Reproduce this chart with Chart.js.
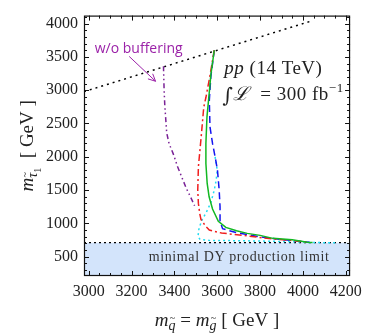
<!DOCTYPE html>
<html>
<head>
<meta charset="utf-8">
<script src="https://cdn.jsdelivr.net/npm/chart.js@4.4.1/dist/chart.umd.min.js"></script>
<style>
html, body { margin: 0; padding: 0; background: #fff; }
#wrap { width: 368px; height: 336px; }
</style>
</head>
<body>
<div id="wrap"><canvas id="limitChart"></canvas></div>
<script>
// axis ranges and tick labels
const xRange = [2978, 4220];
const yRange = [210, 4120];
const xTicks = [3000, 3200, 3400, 3600, 3800, 4000, 4200];
const yTicks = [500, 1000, 1500, 2000, 2500, 3000, 3500, 4000];
const dyLimit = 710;

// kinematic boundary (dotted)
const diagX = [2978, 4040];
const diagY = [2978, 4040];

// exclusion curves
const greenX = [3586, 3570, 3562, 3552, 3547, 3547, 3553, 3562, 3578, 3605, 3640, 3690, 3740, 3800, 3860, 3950, 4020, 4045];
const greenY = [3600, 3225, 2940, 2600, 2200, 1900, 1600, 1400, 1215, 1030, 940, 890, 850, 820, 775, 755, 718, 712];

const redX = [3586, 3565, 3547, 3537, 3525, 3512, 3509, 3512, 3518, 3524, 3545, 3563, 3620, 3720, 3820, 3940, 4030];
const redY = [3600, 3200, 2890, 2745, 2300, 1850, 1500, 1300, 1150, 1060, 960, 900, 855, 820, 780, 745, 715];

const blueX = [3586, 3570, 3563, 3566, 3578, 3590, 3601, 3609, 3613, 3613, 3625, 3690, 3815, 3940, 4030];
const blueY = [3600, 3200, 2850, 2450, 2200, 2000, 1800, 1500, 1250, 1030, 920, 860, 790, 745, 715];

const cyanX = [3590, 3600, 3595, 3586, 3570, 3548, 3530, 3515, 3510, 3520, 3560, 3650, 3800, 3950, 4030, 4160];
const cyanY = [2000, 1800, 1650, 1500, 1310, 1160, 1060, 930, 800, 760, 745, 742, 735, 725, 712, 710];

const purpleX = [3349, 3352, 3355, 3364, 3375, 3395, 3415, 3435, 3455, 3475, 3494];
const purpleY = [3360, 3000, 2780, 2360, 2200, 2040, 1850, 1690, 1530, 1400, 1265];

// annotation anchors in data units
const bufferLabel = { x: 3028, y: 3565 };
const bufferArrow = { from: [3189, 3507], to: [3312, 3134] };
const ppLabel = { x: 3633, y: 3249 };
const lumiLabel = { x: 3624, y: 2859 };
const dyLabel = { x: 3702, y: 435 };

const serif = '"Liberation Serif", serif';

function pts(xs, ys) {
    return xs.map((x, i) => ({ x: x, y: ys[i] }));
}

function line(label, xs, ys, color, dash, order) {
    return {
        label: label,
        data: pts(xs, ys),
        borderColor: color,
        borderWidth: 1.5,
        borderDash: dash,
        pointRadius: 0,
        showLine: true,
        fill: false,
        tension: 0,
        order: order
    };
}

// draws a run of [font, text, dy, tilde] pieces, returns the end x
function drawParts(ctx, parts, x, y) {
    parts.forEach(p => {
        ctx.font = p[0];
        const w = ctx.measureText(p[1]).width;
        ctx.fillText(p[1], x, y + p[2]);
        if (p[3]) {
            ctx.save();
            ctx.font = '10px ' + serif;
            ctx.textAlign = 'center';
            ctx.fillText('~', x + w / 2 + 0.5, y + p[2] - p[3]);
            ctx.restore();
        }
        x += w;
    });
    return x;
}

function partsWidth(ctx, parts) {
    let w = 0;
    parts.forEach(p => { ctx.font = p[0]; w += ctx.measureText(p[1]).width; });
    return w;
}

// frame, inside ticks on all four sides, and text labels
const framePlugin = {
    id: 'frame',
    afterDraw(chart) {
        const ctx = chart.ctx;
        const a = chart.chartArea;
        const sx = chart.scales.x, sy = chart.scales.y;
        ctx.save();
        ctx.strokeStyle = '#111';
        ctx.lineWidth = 1.2;
        ctx.strokeRect(a.left + 0.5, a.top + 0.5, a.right - a.left - 1, a.bottom - a.top - 1);

        ctx.lineWidth = 1;
        ctx.beginPath();
        for (let v = 3000; v <= 4200; v += 50) {
            const px = Math.round(sx.getPixelForValue(v)) + 0.5;
            const len = v % 200 === 0 ? 5 : 3;
            ctx.moveTo(px, a.bottom); ctx.lineTo(px, a.bottom - len);
            ctx.moveTo(px, a.top); ctx.lineTo(px, a.top + len);
        }
        for (let v = 300; v <= 4100; v += 100) {
            const py = Math.round(sy.getPixelForValue(v)) + 0.5;
            const len = v % 500 === 0 ? 5 : 3;
            ctx.moveTo(a.left, py); ctx.lineTo(a.left + len, py);
            ctx.moveTo(a.right, py); ctx.lineTo(a.right - len, py);
        }
        ctx.stroke();

        // w/o buffering + arrow
        ctx.fillStyle = '#9b22a8';
        ctx.strokeStyle = '#9b22a8';
        ctx.font = '14px "Open Sans", sans-serif';
        ctx.textBaseline = 'alphabetic';
        ctx.fillText('w/o buffering', sx.getPixelForValue(bufferLabel.x), sy.getPixelForValue(bufferLabel.y));
        const x0 = sx.getPixelForValue(bufferArrow.from[0]), y0 = sy.getPixelForValue(bufferArrow.from[1]);
        const x1 = sx.getPixelForValue(bufferArrow.to[0]), y1 = sy.getPixelForValue(bufferArrow.to[1]);
        const ang = Math.atan2(y1 - y0, x1 - x0);
        ctx.beginPath();
        ctx.moveTo(x0, y0); ctx.lineTo(x1, y1);
        ctx.moveTo(x1 - 8 * Math.cos(ang - 0.45), y1 - 8 * Math.sin(ang - 0.45));
        ctx.lineTo(x1, y1);
        ctx.lineTo(x1 - 8 * Math.cos(ang + 0.45), y1 - 8 * Math.sin(ang + 0.45));
        ctx.stroke();

        // pp (14 TeV) and luminosity
        ctx.fillStyle = '#222';
        ctx.letterSpacing = '0.5px';
        let px = sx.getPixelForValue(ppLabel.x), py = sy.getPixelForValue(ppLabel.y);
        drawParts(ctx, [
            ['italic 19px ' + serif, 'pp ', 0],
            ['19px ' + serif, '(14 TeV)', 0]
        ], px, py);

        px = sx.getPixelForValue(lumiLabel.x); py = sy.getPixelForValue(lumiLabel.y);
        drawParts(ctx, [
            ['20px "DejaVu Serif", serif', '\u222B', 2],
            ['italic 19px ' + serif, '\u2112', 0],
            ['19px ' + serif, '  = 300 fb', 0],
            ['13px ' + serif, '\u22121', -8]
        ], px, py);
        ctx.letterSpacing = '0px';

        // DY limit text
        ctx.font = '14px ' + serif;
        ctx.letterSpacing = '0.6px';
        ctx.textAlign = 'center';
        ctx.fillStyle = '#333';
        ctx.fillText('minimal DY production limit', sx.getPixelForValue(dyLabel.x), sy.getPixelForValue(dyLabel.y));
        ctx.letterSpacing = '0px';

        // axis titles
        ctx.textAlign = 'left';
        ctx.fillStyle = '#222';
        const xParts = [
            ['italic 19px ' + serif, 'm', 0],
            ['italic 14px ' + serif, 'q', 4, 9],
            ['19px ' + serif, ' = ', 0],
            ['italic 19px ' + serif, 'm', 0],
            ['italic 14px ' + serif, 'g', 4, 9],
            ['19px ' + serif, ' [ GeV ]', 0]
        ];
        const cx = (a.left + a.right) / 2;
        drawParts(ctx, xParts, cx - partsWidth(ctx, xParts) / 2, 326);

        const yParts = [
            ['italic 19px ' + serif, 'm', 0],
            ['italic 14px ' + serif, '\u03C4', 4, 9],
            ['10px ' + serif, '1', 8],
            ['19px ' + serif, '  [ GeV ]', 0]
        ];
        const cy = (a.top + a.bottom) / 2;
        ctx.translate(33, cy);
        ctx.rotate(-Math.PI / 2);
        drawParts(ctx, yParts, -partsWidth(ctx, yParts) / 2, 0);
        ctx.restore();
    }
};

new Chart(document.getElementById('limitChart').getContext('2d'), {
    type: 'scatter',
    data: {
        datasets: [
            {
                label: 'DY limit',
                data: pts(xRange, [dyLimit, dyLimit]),
                borderColor: '#000',
                borderWidth: 1.3,
                borderDash: [2, 3],
                backgroundColor: '#d3e4fb',
                pointRadius: 0,
                showLine: true,
                fill: 'start',
                order: 10
            },
            line('boundary', diagX, diagY, '#000', [2, 4], 9),
            line('w/o buffering', purpleX, purpleY, '#7a2296', [5, 3, 1.5, 3, 1.5, 3], 6),
            line('cyan', cyanX, cyanY, '#22dcf0', [2, 3], 5),
            line('blue', blueX, blueY, '#1414f0', [7, 4], 4),
            line('red', redX, redY, '#f01e1e', [7, 3, 2, 3], 3),
            line('green', greenX, greenY, '#12b822', [], 2)
        ]
    },
    options: {
        responsive: true,
        maintainAspectRatio: false,
        animation: false,
        layout: { padding: { top: 5, right: 13, left: 0, bottom: 0 } },
        plugins: {
            legend: { display: false },
            tooltip: { enabled: false }
        },
        scales: {
            x: {
                type: 'linear',
                min: xRange[0],
                max: xRange[1],
                afterBuildTicks: s => { s.ticks = xTicks.map(v => ({ value: v })); },
                afterFit: s => { s.height = 60; },
                grid: { display: false, drawTicks: false },
                border: { display: false },
                ticks: {
                    padding: 6,
                    maxRotation: 0,
                    autoSkip: false,
                    color: '#222',
                    font: { family: serif, size: 16 },
                    callback: v => String(v)
                }
            },
            y: {
                type: 'linear',
                min: yRange[0],
                max: yRange[1],
                afterBuildTicks: s => { s.ticks = yTicks.map(v => ({ value: v })); },
                afterFit: s => { s.width = 84; },
                grid: { display: false, drawTicks: false },
                border: { display: false },
                ticks: {
                    padding: 6,
                    autoSkip: false,
                    color: '#222',
                    font: { family: serif, size: 16 },
                    callback: v => String(v)
                }
            }
        }
    },
    plugins: [framePlugin]
});
</script>
</body>
</html>
